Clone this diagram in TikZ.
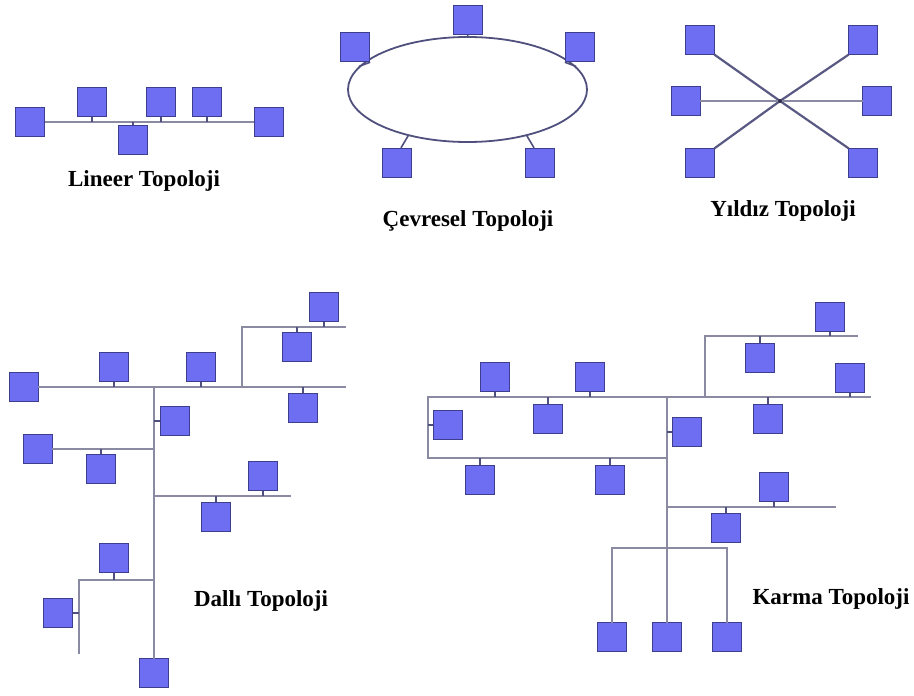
\documentclass[tikz,border=0pt]{standalone}
\usepackage{fontspec}
\setmainfont{Liberation Serif}
\usetikzlibrary{shapes.geometric}
\definecolor{boxfill}{HTML}{6E6EF2}
\definecolor{boxedge}{HTML}{3E3E8E}
\definecolor{busgray}{HTML}{8A8AA2}
\definecolor{stubcol}{HTML}{50507E}
\tikzset{
  pc/.style={draw=boxedge, fill=boxfill, line width=1.4pt, minimum width=29pt, minimum height=29pt, inner sep=0pt},
  bus/.style={draw=busgray, line width=2.6pt, line cap=rect},
  ringline/.style={draw=stubcol, line width=1.8pt},
  stub/.style={draw=stubcol, line width=1.6pt},
  title/.style={font=\bfseries\fontsize{23}{26}\selectfont, inner sep=0pt}
}
\begin{document}
\begin{tikzpicture}[x=1pt,y=-1pt]
\useasboundingbox (0,0) rectangle (914,696);

% ---------- Lineer Topoloji ----------
\coordinate (lbus) at (0,122);
\draw[bus] (44,122) -- (256,122);
\node[pc] (l1) at (30,122) {};
\node[pc] (l2) at (92,102) {};
\node[pc] (l3) at (133,140) {};
\node[pc] (l4) at (161,102) {};
\node[pc] (l5) at (207,102) {};
\node[pc] (l6) at (269,122) {};
\foreach \b in {l2,l4,l5} \draw[stub] (\b.south) -- (\b.south |- lbus);
\draw[stub] (l3.north) -- (l3.north |- lbus);
\node[title] (tl) at (144,181) {Lineer Topoloji};

% ---------- Çevresel Topoloji ----------
\node[ellipse, ringline, fill=white, minimum width=239pt, minimum height=105pt, inner sep=0pt] (ring) at (467.5,89.5) {};
\node[pc] (r1) at (468,20) {};
\node[pc] (r2) at (355,47) {};
\node[pc] (r3) at (580,47) {};
\node[pc] (r4) at (397,163) {};
\node[pc] (r5) at (540,163) {};
\draw[stub] (r1.south) -- (ring.north);
\draw[stub] (r2.south east) -- (ring.168);
\draw[stub] (r3.south west) -- (ring.12);
\draw[stub] ([xshift=4pt]r4.north) -- (ring.218);
\draw[stub] ([xshift=-6pt]r5.north) -- (ring.322);
\node[title] (tr) at (468,221) {Çevresel Topoloji};

% ---------- Yıldız Topoloji ----------
\coordinate (hub) at (780,101);
\node[pc] (s1) at (700,40) {};
\node[pc] (s2) at (863,40) {};
\node[pc] (s3) at (686,101) {};
\node[pc] (s4) at (877,101) {};
\node[pc] (s5) at (700,163) {};
\node[pc] (s6) at (863,163) {};
\draw[bus, draw=stubcol!85!busgray, line width=2.2pt] (s1.south east) -- (hub) -- (s6.north west);
\draw[bus, draw=stubcol!85!busgray, line width=2.2pt] (s2.south west) -- (hub) -- (s5.north east);
\draw[bus, line width=2.2pt] (s3.east) -- (hub) -- (s4.west);
\fill[stubcol!60!black] (hub) circle (2pt);
\node[title] (ts) at (783,211) {Yıldız Topoloji};

% ---------- Dallı Topoloji ----------
\coordinate (dbusE) at (345,387);
\coordinate (dT) at (154,387);
\coordinate (dU1) at (242,387);
\coordinate (dU2) at (242,327);
\coordinate (dU3) at (345,327);
\coordinate (dL) at (154,449);
\coordinate (dR1) at (154,496);
\coordinate (dR2) at (290,496);
\coordinate (dB1) at (154,580);
\coordinate (dB2) at (79,580);
\coordinate (dB3) at (79,653);
\node[pc] (d0) at (24,387) {};
\node[pc] (d13) at (154,673) {};
\draw[bus] (d0.east) -- (dbusE);
\draw[bus] (dT) -- (d13.north);
\draw[bus] (dU1) -- (dU2) -- (dU3);
\draw[bus] (dR1) -- (dR2);
\draw[bus] (dB1) -- (dB2) -- (dB3);
\node[pc] (d1) at (114,367) {};
\node[pc] (d2) at (201,367) {};
\node[pc] (d3) at (175,421) {};
\node[pc] (d4) at (324,307) {};
\node[pc] (d5) at (297,347) {};
\node[pc] (d6) at (303,408) {};
\node[pc] (d7) at (38,449) {};
\node[pc] (d8) at (101,469) {};
\node[pc] (d9) at (263,476) {};
\node[pc] (d10) at (216,517) {};
\node[pc] (d11) at (114,558) {};
\node[pc] (d12) at (58,613) {};
\draw[bus] (d7.east) -- (dL);
\foreach \b in {d1,d2} \draw[stub] (\b.south) -- (\b.south |- dT);
\draw[stub] (d6.north) -- (d6.north |- dT);
\draw[stub] (d3.west) -- (d3.west -| dT);
\draw[stub] (d4.south) -- (d4.south |- dU2);
\draw[stub] (d5.north) -- (d5.north |- dU2);
\draw[stub] (d8.north) -- (d8.north |- dL);
\draw[stub] (d9.south) -- (d9.south |- dR1);
\draw[stub] (d10.north) -- (d10.north |- dR1);
\draw[stub] (d11.south) -- (d11.south |- dB1);
\draw[stub] (d12.east) -- (d12.east -| dB2);
\node[title] (td) at (261,601) {Dallı Topoloji};

% ---------- Karma Topoloji ----------
\coordinate (kW) at (428,397);
\coordinate (kE) at (870,397);
\coordinate (kT) at (667,397);
\coordinate (kLa) at (428,458);
\coordinate (kLb) at (667,458);
\coordinate (kU1) at (705,397);
\coordinate (kU2) at (705,336);
\coordinate (kU3) at (857,336);
\coordinate (kM1) at (667,507);
\coordinate (kM2) at (835,507);
\coordinate (kN1) at (612,548);
\coordinate (kN2) at (727,548);
\node[pc] (k15) at (667,637) {};
\node[pc] (k14) at (612,637) {};
\node[pc] (k16) at (727,637) {};
\draw[bus] (kW) -- (kE);
\draw[bus] (kW) -- (kLa) -- (kLb);
\draw[bus] (kT) -- (k15.north);
\draw[bus] (kU1) -- (kU2) -- (kU3);
\draw[bus] (kM1) -- (kM2);
\draw[bus] (k14.north) -- (kN1) -- (kN2) -- (k16.north);
\node[pc] (k1) at (495,377) {};
\node[pc] (k2) at (590,377) {};
\node[pc] (k3) at (548,419) {};
\node[pc] (k4) at (448,425) {};
\node[pc] (k5) at (480,480) {};
\node[pc] (k6) at (610,480) {};
\node[pc] (k7) at (687,432) {};
\node[pc] (k8) at (830,317) {};
\node[pc] (k9) at (760,358) {};
\node[pc] (k10) at (850,378) {};
\node[pc] (k11) at (768,419) {};
\node[pc] (k12) at (774,487) {};
\node[pc] (k13) at (726,528) {};
\foreach \b in {k1,k2,k10} \draw[stub] (\b.south) -- (\b.south |- kW);
\foreach \b in {k3,k11} \draw[stub] (\b.north) -- (\b.north |- kW);
\draw[stub] (k4.west) -- (k4.west -| kW);
\foreach \b in {k5,k6} \draw[stub] (\b.north) -- (\b.north |- kLa);
\draw[stub] (k7.west) -- (k7.west -| kT);
\draw[stub] (k8.south) -- (k8.south |- kU2);
\draw[stub] (k9.north) -- (k9.north |- kU2);
\draw[stub] (k12.south) -- (k12.south |- kM1);
\draw[stub] (k13.north) -- (k13.north |- kM1);
\node[title] (tk) at (831,599) {Karma Topoloji};
\end{tikzpicture}
\end{document}
